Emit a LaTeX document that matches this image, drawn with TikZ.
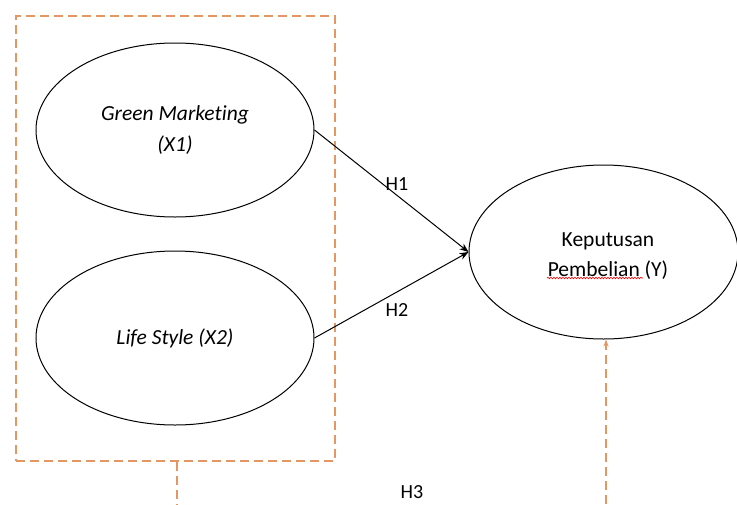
\documentclass[tikz,border=0pt]{standalone}
\usepackage{fontspec}
\setmainfont{Carlito}[Ligatures=NoCommon]
\usetikzlibrary{shapes.geometric,arrows.meta,decorations.pathmorphing}
\definecolor{dashorange}{RGB}{230,150,98}
\begin{document}
\begin{tikzpicture}[x=1pt,y=-1pt,
  latent/.style={draw=black,line width=1pt,ellipse,minimum width=278pt,minimum height=174pt,inner sep=0pt,align=center,font=\fontsize{21.5}{31}\selectfont},
  txt/.style={inner sep=0pt,align=center,font=\fontsize{21.5}{30}\selectfont},
  pathline/.style={draw=black,line width=1pt,-{Stealth[length=9pt,width=7pt]}},
  grp/.style={draw=dashorange,line width=1.1pt,dash pattern=on 9pt off 5pt},
  lbl/.style={font=\fontsize{20}{24}\selectfont,inner sep=0pt}]
\useasboundingbox (0,0) rectangle (737,504);
\fill[white] (0,0) rectangle (737,504);
\node[grp,rectangle,minimum width=319pt,minimum height=445pt,inner sep=0pt] (box) at (175.5,238.5) {};
\node[latent,font=\fontsize{21.5}{31}\selectfont\itshape] (x1) at (175,130) {Green Marketing\\(X1)};
\node[latent,font=\fontsize{21.5}{31}\selectfont\itshape] (x2) at (175,338) {Life Style (X2)};
\node[latent,minimum width=269pt] (y) at (603.5,252) {};
\node[txt] (ytext) at (608,256) {Keputusan\\Pembelian (Y)};
\draw[pathline] (x1.east) -- (y.west);
\draw[pathline] (x2.east) -- (y.west);
\node[lbl] (h1) at (397,184) {H1};
\node[lbl] (h2) at (397,310) {H2};
\node[lbl,anchor=base] (h3) at (412,498) {H3};
\coordinate (b1) at (177,504);
\coordinate (b2) at (606,504);
\draw[grp] (box.south -| b1) -- (b1);
\draw[grp,-{Stealth[length=7pt,width=5pt]}] (b2) -- (b2 |- y.south);
\draw[red,line width=0.6pt,decorate,decoration={snake,amplitude=0.8pt,segment length=3pt}] (547,278) -- (643,278);
\end{tikzpicture}
\end{document}
